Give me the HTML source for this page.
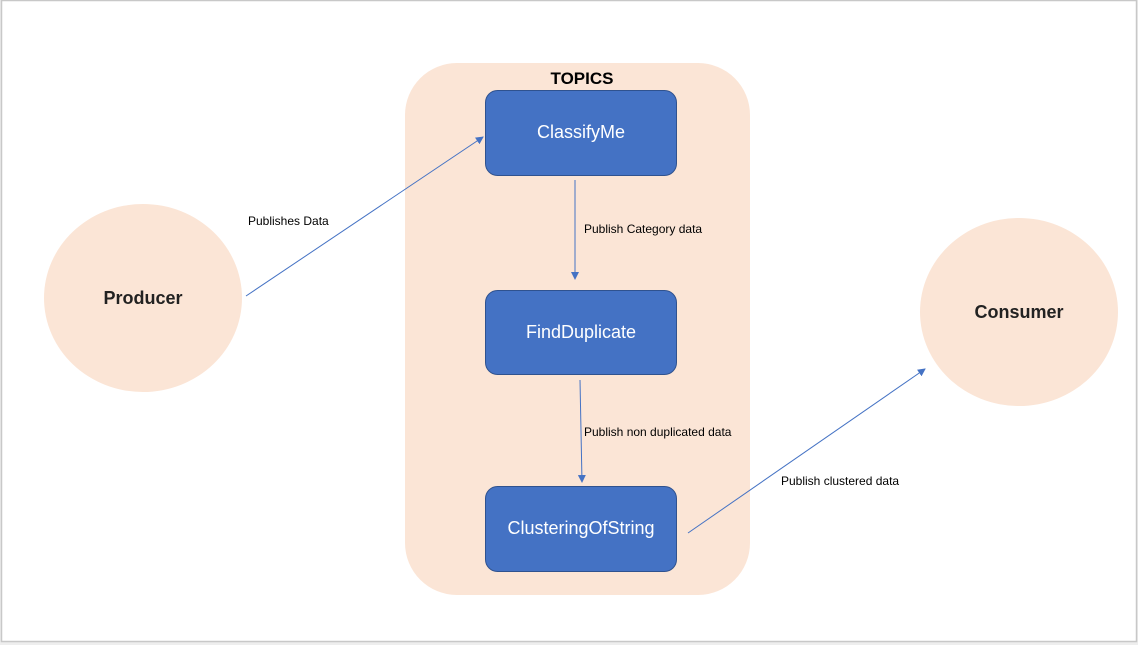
<!DOCTYPE html>
<html><head><style>
html,body{margin:0;padding:0;background:#eeeeee;}
svg{display:block;font-family:"Liberation Sans",sans-serif;}
</style></head><body>
<svg width="1138" height="645" xmlns="http://www.w3.org/2000/svg">
<defs><marker id="a" markerWidth="8" markerHeight="8" refX="7" refY="4" orient="auto" markerUnits="userSpaceOnUse"><path d="M0,0 L8,4 L0,8 z" fill="#4472c4"/></marker></defs>
<rect x="0" y="0" width="1138" height="645" fill="#eeeeee"/>
<rect x="1.5" y="0.5" width="1135" height="641" fill="#fff" stroke="#c8c8c8" stroke-width="1.5"/>
<rect x="405" y="63" width="345" height="532" rx="52" fill="#fbe5d6"/>
<text x="582" y="84" text-anchor="middle" font-size="17" font-weight="bold" fill="#000">TOPICS</text>
<ellipse cx="143" cy="298" rx="99" ry="94" fill="#fbe5d6"/>
<ellipse cx="1019" cy="312" rx="99" ry="94" fill="#fbe5d6"/>
<text x="143" y="304" text-anchor="middle" font-size="18" font-weight="bold" fill="#222">Producer</text>
<text x="1019" y="318" text-anchor="middle" font-size="18" font-weight="bold" fill="#222">Consumer</text>
<g fill="#4472c4" stroke="#2f528f" stroke-width="1">
<rect x="485.5" y="90.5" width="191" height="85" rx="12"/>
<rect x="485.5" y="290.5" width="191" height="84" rx="12"/>
<rect x="485.5" y="486.5" width="191" height="85" rx="12"/>
</g>
<g fill="#fff" font-size="18" text-anchor="middle">
<text x="581" y="138">ClassifyMe</text>
<text x="581" y="338">FindDuplicate</text>
<text x="581" y="534">ClusteringOfString</text>
</g>
<g stroke="#4472c4" stroke-width="1" marker-end="url(#a)">
<line x1="246" y1="296" x2="483" y2="137"/>
<line x1="575" y1="180" x2="575" y2="279"/>
<line x1="580" y1="380" x2="582" y2="482"/>
<line x1="688" y1="533" x2="925" y2="369"/>
</g>
<g font-size="12" fill="#000">
<text x="248" y="225">Publishes Data</text>
<text x="584" y="233">Publish Category data</text>
<text x="584" y="436">Publish non duplicated data</text>
<text x="781" y="485">Publish clustered data</text>
</g>
</svg>
</body></html>
